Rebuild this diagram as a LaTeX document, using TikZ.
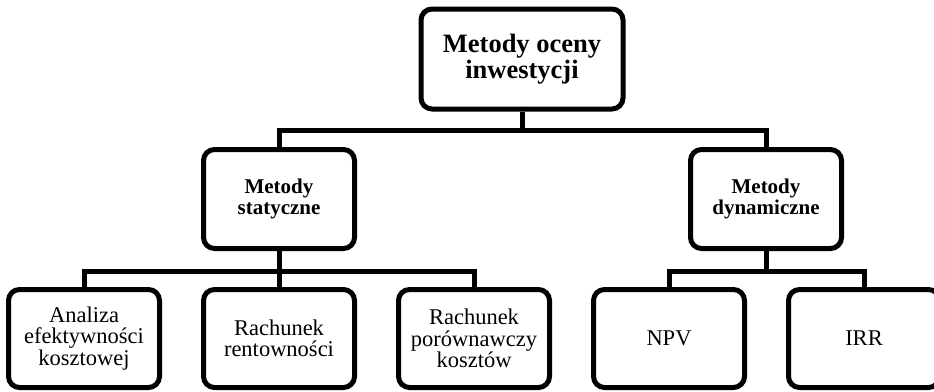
\documentclass[tikz,border=0pt]{standalone}
\usepackage{fontspec}
\setmainfont{Liberation Serif}
\begin{document}
\begin{tikzpicture}[x=1pt,y=-1pt,
  box/.style={draw=black, line width=5pt, rounded corners=11pt, align=center, inner sep=2pt},
  topbox/.style={box, minimum width=202pt, minimum height=100pt, font=\fontsize{26.5}{26}\selectfont\bfseries},
  midbox/.style={box, minimum width=151pt, minimum height=99pt, font=\fontsize{21}{21.5}\selectfont\bfseries},
  leafbox/.style={box, minimum width=151pt, minimum height=98pt, font=\fontsize{22.5}{21.5}\selectfont},
  conn/.style={draw=black, line width=5pt}]
\clip (0,0) rectangle (934,391);
\fill[white] (0,0) rectangle (934,391);
\node[topbox] (top) at (522,59) {Metody oceny\\inwestycji};
\node[midbox] (ls) at (279,199) {Metody\\statyczne};
\node[midbox] (rs) at (766,199) {Metody\\dynamiczne};
\node[leafbox] (a) at (84,338.5) {Analiza\\efektywności\\kosztowej};
\node[leafbox] (b) at (279,338.5) {Rachunek\\rentowności};
\node[leafbox] (c) at (474,338.5) {Rachunek\\porównawczy\\kosztów};
\node[leafbox] (d) at (669,338.5) {NPV};
\node[leafbox] (e) at (864,338.5) {IRR};
\coordinate (j0) at (522,130);
\coordinate (j1) at (279,271);
\coordinate (j2) at (766,271);
\draw[conn] (top.south) -- (j0);
\draw[conn] (ls.north) |- (j0) -| (rs.north);
\draw[conn] (ls.south) -- (b.north);
\draw[conn] (a.north) |- (j1) -| (c.north);
\draw[conn] (rs.south) -- (j2);
\draw[conn] (d.north) |- (j2) -| (e.north);
\end{tikzpicture}
\end{document}
